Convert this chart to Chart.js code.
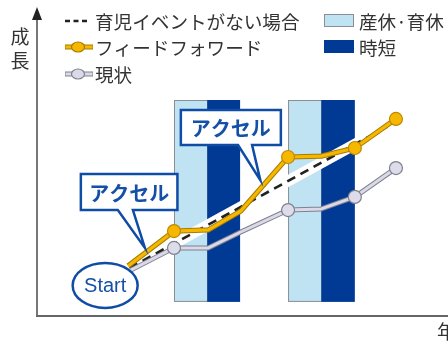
<!DOCTYPE html>
<html>
<head>
<meta charset="utf-8">
<script src="https://cdn.jsdelivr.net/npm/chart.js@4/dist/chart.umd.min.js"></script>
<style>
html,body{margin:0;padding:0;background:#fff;}
canvas{display:block;}
</style>
</head>
<body>
<canvas id="c" width="448" height="342"></canvas>
<script>
// ---- data (x: time, y: growth) ----
const feedforwardX = [2.66, 4.0, 5.0, 5.95, 7.33, 8.3, 9.28, 10.48];
const feedforwardY = [16.7, 28.3, 28.7, 35.0, 53.0, 53.3, 56.0, 65.7];
const feedforwardMarkers = [false, true, false, false, true, false, true, true];
const currentX = [2.74, 4.0, 5.0, 5.95, 7.33, 8.3, 9.28, 10.48];
const currentY = [15.3, 22.7, 22.7, 28.0, 35.3, 35.7, 39.7, 49.3];
const currentMarkers = [false, true, false, false, true, false, true, true];
const noEventX = [2.7, 10.25];
const noEventY = [16.0, 63.3];
// life events: maternity/childcare leave and shortened hours
const leaveStart = [4.0, 7.33];
const leaveEnd = [4.97, 8.3];
const shortEnd = [5.93, 9.28];
const eventTop = 72;
const eventBottom = 4.7;
const seriesNames = ['育児イベントがない場合', 'フィードフォワード', '現状'];
const eventNames = ['産休·育休', '時短'];
const axisY = '成長';
const axisX = '年';
const calloutText = 'アクセル';
const startText = 'Start';

const pts = (xs, ys) => xs.map((x, i) => ({x, y: ys[i]}));

const ORANGE = '#f6b700', ORANGE_EDGE = '#a77c00';
const GRAY = '#d9d9e7', GRAY_EDGE = '#80808f';
const BLUE = '#0f4ca3';
const LIGHT = '#bfe3f3', DARK = '#003a95';
const TXT = '#333';
const JP = '"Noto Sans CJK JP", "Noto Sans", sans-serif';

// annotation geometry in data units
const callouts = [
  {x0: 1.28, x1: 4.1, yTop: 47.3, yBot: 35.3, t0: 2.36, t1: 2.8, tipX: 3.15, tipY: 22.7},
  {x0: 4.2, x1: 7.12, yTop: 68.7, yBot: 57.0, t0: 5.87, t1: 6.28, tipX: 6.52, tipY: 45.3}
];
const startMark = {x: 1.99, y: 10.2, rx: 32.5, ry: 22.5};

const decor = {
  id: 'decor',
  beforeDatasetsDraw(chart) {
    const ctx = chart.ctx, sx = chart.scales.x, sy = chart.scales.y;
    const a = chart.chartArea;
    ctx.save();
    // event bars
    for (let i = 0; i < leaveStart.length; i++) {
      const l = sx.getPixelForValue(leaveStart[i]);
      const m = sx.getPixelForValue(leaveEnd[i]);
      const r = sx.getPixelForValue(shortEnd[i]);
      const t = sy.getPixelForValue(eventTop);
      const b = sy.getPixelForValue(eventBottom);
      ctx.fillStyle = LIGHT;
      ctx.fillRect(l, t, m - l, b - t);
      ctx.strokeStyle = '#8a8f96';
      ctx.lineWidth = 1;
      ctx.strokeRect(l + 0.5, t + 0.5, m - l, b - t - 1);
      ctx.fillStyle = DARK;
      ctx.fillRect(m, t, r - m, b - t);
    }
    // axes
    ctx.strokeStyle = '#555';
    ctx.lineWidth = 1.6;
    ctx.beginPath();
    ctx.moveTo(a.left, a.bottom);
    ctx.lineTo(a.left, 18);
    ctx.stroke();
    ctx.fillStyle = '#222';
    ctx.beginPath();
    ctx.moveTo(a.left, 7);
    ctx.lineTo(a.left - 5, 20);
    ctx.lineTo(a.left + 5, 20);
    ctx.closePath();
    ctx.fill();
    ctx.strokeStyle = '#666';
    ctx.lineWidth = 2;
    ctx.beginPath();
    ctx.moveTo(a.left - 1, a.bottom);
    ctx.lineTo(chart.width, a.bottom);
    ctx.stroke();
    ctx.restore();
  },
  afterDatasetsDraw(chart) {
    const ctx = chart.ctx, sx = chart.scales.x, sy = chart.scales.y;
    ctx.save();
    // callouts
    callouts.forEach(c => {
      const x0 = sx.getPixelForValue(c.x0), x1 = sx.getPixelForValue(c.x1);
      const yt = sy.getPixelForValue(c.yTop), yb = sy.getPixelForValue(c.yBot);
      const t0 = sx.getPixelForValue(c.t0), t1 = sx.getPixelForValue(c.t1);
      const tx = sx.getPixelForValue(c.tipX), ty = sy.getPixelForValue(c.tipY);
      ctx.beginPath();
      ctx.moveTo(x0, yt);
      ctx.lineTo(x1, yt);
      ctx.lineTo(x1, yb);
      ctx.lineTo(t1, yb);
      ctx.lineTo(tx, ty);
      ctx.lineTo(t0, yb);
      ctx.lineTo(x0, yb);
      ctx.closePath();
      ctx.fillStyle = '#fff';
      ctx.fill();
      ctx.lineWidth = 2.5;
      ctx.lineJoin = 'miter';
      ctx.strokeStyle = BLUE;
      ctx.stroke();
      ctx.fillStyle = '#1550a8';
      ctx.font = 'bold 20px ' + JP;
      ctx.textAlign = 'center';
      ctx.textBaseline = 'middle';
      ctx.fillText(calloutText, (x0 + x1) / 2, (yt + yb) / 2 + 1);
    });
    // start ellipse
    const cx = sx.getPixelForValue(startMark.x), cy = sy.getPixelForValue(startMark.y);
    ctx.beginPath();
    ctx.ellipse(cx, cy, startMark.rx, startMark.ry, 0, 0, Math.PI * 2);
    ctx.fillStyle = '#fff';
    ctx.fill();
    ctx.lineWidth = 2.5;
    ctx.strokeStyle = BLUE;
    ctx.stroke();
    ctx.fillStyle = '#1550a8';
    ctx.font = '20px "Liberation Sans", Arial, sans-serif';
    ctx.textAlign = 'center';
    ctx.textBaseline = 'middle';
    ctx.fillText(startText, cx, cy + 1);

    // legend (left)
    const rows = [21, 47, 74];
    ctx.textAlign = 'left';
    ctx.font = '18.6px ' + JP;
    // dashed
    ctx.strokeStyle = '#222';
    ctx.lineWidth = 2.5;
    ctx.setLineDash([5, 3.5]);
    ctx.beginPath();
    ctx.moveTo(65, rows[0]);
    ctx.lineTo(88, rows[0]);
    ctx.stroke();
    ctx.setLineDash([]);
    const lineSym = (y, fill, edge) => {
      ctx.strokeStyle = edge; ctx.lineWidth = 5;
      ctx.beginPath(); ctx.moveTo(65, y); ctx.lineTo(93, y); ctx.stroke();
      ctx.strokeStyle = fill; ctx.lineWidth = 3;
      ctx.beginPath(); ctx.moveTo(65.5, y); ctx.lineTo(92.5, y); ctx.stroke();
      ctx.beginPath(); ctx.ellipse(78, y, 6.5, 5, 0, 0, Math.PI * 2);
      ctx.fillStyle = fill; ctx.fill();
      ctx.lineWidth = 1.2; ctx.strokeStyle = edge; ctx.stroke();
    };
    lineSym(rows[1], ORANGE, ORANGE_EDGE);
    lineSym(rows[2], GRAY, GRAY_EDGE);
    ctx.fillStyle = TXT;
    seriesNames.forEach((n, i) => ctx.fillText(n, 95, rows[i] + 1));
    // legend (right)
    ctx.fillStyle = LIGHT;
    ctx.fillRect(324, rows[0] - 7, 30, 13);
    ctx.strokeStyle = '#8a8f96'; ctx.lineWidth = 1;
    ctx.strokeRect(324.5, rows[0] - 6.5, 29, 12);
    ctx.fillStyle = DARK;
    ctx.fillRect(324, rows[1] - 7, 30, 13);
    ctx.fillStyle = TXT;
    eventNames.forEach((n, i) => ctx.fillText(n, 359, rows[i] + 1));
    // axis titles
    ctx.font = '19px ' + JP;
    ctx.textAlign = 'center';
    ctx.fillText(axisY[0], 20, 37);
    ctx.fillText(axisY[1], 20, 61);
    ctx.textAlign = 'left';
    ctx.fillText(axisX, 437, 332);
    ctx.restore();
  }
};

new Chart(document.getElementById('c'), {
  type: 'line',
  data: {
    datasets: [
      {data: pts(feedforwardX, feedforwardY), borderColor: ORANGE, borderWidth: 3.2, order: 0,
       pointRadius: feedforwardMarkers.map(m => m ? 6.5 : 0), pointBackgroundColor: ORANGE,
       pointBorderColor: '#c08a00', pointBorderWidth: 1.2},
      {data: pts(feedforwardX, feedforwardY), borderColor: ORANGE_EDGE, borderWidth: 5.2, order: 1, pointRadius: 0},
      {data: pts(currentX, currentY), borderColor: GRAY, borderWidth: 3, order: 2,
       pointRadius: currentMarkers.map(m => m ? 6.5 : 0), pointBackgroundColor: '#dcdcea',
       pointBorderColor: GRAY_EDGE, pointBorderWidth: 1.2},
      {data: pts(currentX, currentY), borderColor: GRAY_EDGE, borderWidth: 5, order: 3, pointRadius: 0},
      {data: pts(noEventX, noEventY), borderColor: '#222', borderWidth: 2.6, borderDash: [9, 6], order: 4, pointRadius: 0},
      {data: pts(noEventX, noEventY), borderColor: '#fff', borderWidth: 11, order: 5, pointRadius: 0}
    ]
  },
  options: {
    responsive: false,
    animation: false,
    devicePixelRatio: 1,
    layout: {autoPadding: false, padding: {left: 37, right: 0, top: 16, bottom: 26}},
    scales: {
      x: {type: 'linear', min: 0, max: 12, display: false},
      y: {type: 'linear', min: 0, max: 100, display: false}
    },
    elements: {line: {tension: 0, borderCapStyle: 'butt', borderJoinStyle: 'round'}},
    datasets: {line: {clip: false}},
    plugins: {legend: {display: false}, tooltip: {enabled: false}}
  },
  plugins: [decor]
});
</script>
</body>
</html>
